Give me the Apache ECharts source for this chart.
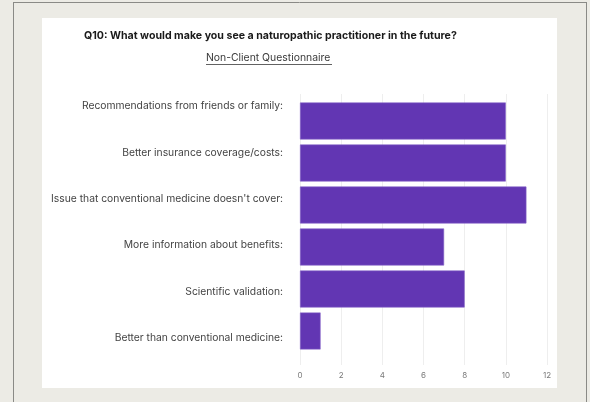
<!DOCTYPE html>
<html>
<head>
<meta charset="utf-8">
<script src="https://cdn.jsdelivr.net/npm/echarts@6/dist/echarts.min.js"></script>
<style>
html,body{margin:0;padding:0;background:#ecebe5;}
#chart{width:590px;height:402px;}
</style>
</head>
<body>
<div id="chart"></div>
<script>
const categories = [
  "Recommendations from friends or family:",
  "Better insurance coverage/costs:",
  "Issue that conventional medicine doesn't cover:",
  "More information about benefits:",
  "Scientific validation:",
  "Better than conventional medicine:"
];
const values = [10, 10, 11, 7, 8, 1];
const xTicks = { min: 0, max: 12, interval: 2 };
const titleText = "Q10: What would make you see a naturopathic practitioner in the future?";
const subtitleText = "Non-Client Questionnaire";

const chart = echarts.init(document.getElementById('chart'), null, { renderer: 'canvas' });
const FONT = 'Inter, "Noto Sans", sans-serif';

chart.setOption({
  backgroundColor: '#ecebe5',
  animation: false,
  graphic: [
    { type: 'rect', z: -10, shape: { x: 42, y: 18, width: 515, height: 370 }, style: { fill: '#ffffff' } },
    { type: 'line', z: -5, shape: { x1: 13, y1: 2.5, x2: 586, y2: 2.5 }, style: { stroke: '#8a8a86', lineWidth: 1 } },
    { type: 'line', z: -5, shape: { x1: 13.5, y1: 2, x2: 13.5, y2: 402 }, style: { stroke: '#8a8a86', lineWidth: 1 } },
    { type: 'line', z: -5, shape: { x1: 586.5, y1: 2, x2: 586.5, y2: 402 }, style: { stroke: '#8a8a86', lineWidth: 1 } },
    { type: 'text', left: 84, top: 30,
      style: { text: titleText, font: 'bold 10.6px ' + FONT, fill: '#1a1a1a' } },
    { type: 'text', top: 53, left: 206,
      style: { text: subtitleText, font: '10.4px ' + FONT, fill: '#3a3a3a' } },
    { type: 'line', shape: { x1: 206, y1: 64.5, x2: 332, y2: 64.5 }, style: { stroke: '#3a3a3a', lineWidth: 0.8 } }
  ],
  grid: [
    { left: 300, width: 247, top: 100, height: 252 },
    { left: 300, width: 247, top: 83, height: 278 },
    { left: 300, width: 247, top: 94, height: 271 }
  ],
  xAxis: [
    { gridIndex: 0, type: 'value', min: xTicks.min, max: xTicks.max, interval: xTicks.interval, show: false },
    { gridIndex: 1, type: 'value', min: 0, max: 1, show: false },
    { gridIndex: 2, type: 'value', min: xTicks.min, max: xTicks.max, interval: xTicks.interval,
      axisLine: { show: false }, axisTick: { show: false },
      axisLabel: { color: '#7a7a7a', fontSize: 8, fontFamily: FONT, margin: 7 },
      splitLine: { show: true, lineStyle: { color: '#eeeeee', width: 1 } } }
  ],
  yAxis: [
    { gridIndex: 0, type: 'category', data: categories, inverse: true, show: false },
    { gridIndex: 1, type: 'category', data: categories, inverse: true,
      axisLine: { show: false }, axisTick: { show: false },
      axisLabel: { color: '#444444', fontSize: 10.3, fontFamily: FONT, margin: 17 } },
    { gridIndex: 2, type: 'value', show: false, min: 0, max: 1 }
  ],
  series: [
    { type: 'bar', xAxisIndex: 0, yAxisIndex: 0, data: values, barCategoryGap: '12%',
      itemStyle: { color: '#6236b3', borderColor: '#8463c8', borderWidth: 0.6 }, z: 3 }
  ]
});
</script>
</body>
</html>
